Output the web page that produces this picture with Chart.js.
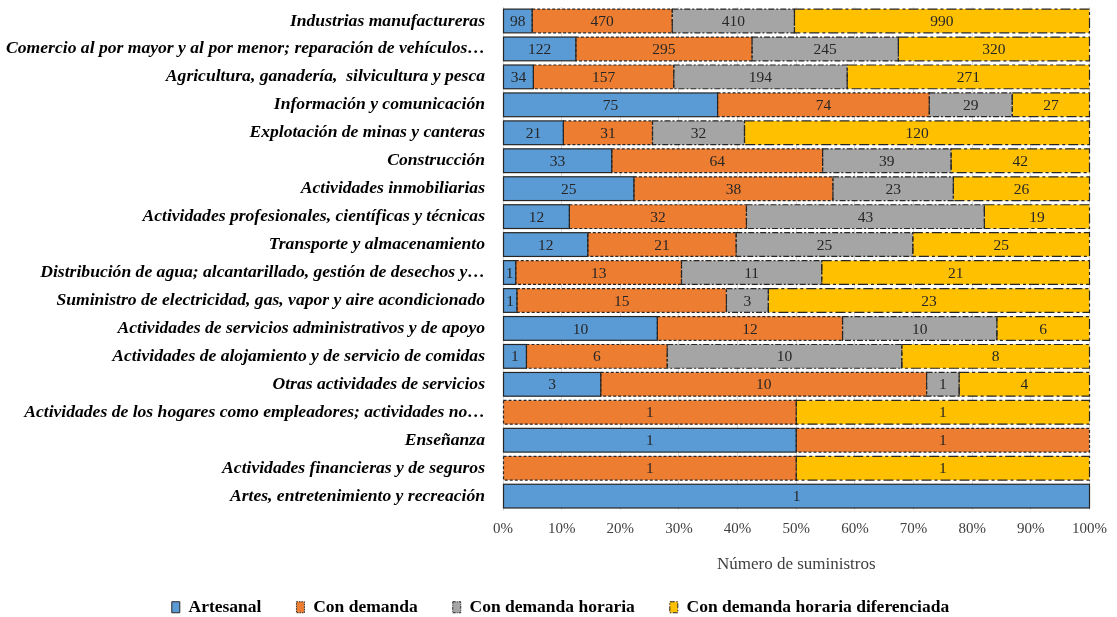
<!DOCTYPE html>
<html>
<head>
<meta charset="utf-8">
<script src="https://cdn.jsdelivr.net/npm/chart.js@4/dist/chart.umd.min.js"></script>
<style>
  html, body { margin: 0; padding: 0; background: #fff; }
  #wrap { width: 1117px; height: 617px; }
</style>
</head>
<body>
<div id="wrap"><canvas id="myChart" width="1117" height="617"></canvas></div>
<script>
// Categories (top to bottom)
const categories = [
    'Industrias manufactureras',
    'Comercio al por mayor y al por menor; reparación de vehículos…',
    'Agricultura, ganadería,  silvicultura y pesca',
    'Información y comunicación',
    'Explotación de minas y canteras',
    'Construcción',
    'Actividades inmobiliarias',
    'Actividades profesionales, científicas y técnicas',
    'Transporte y almacenamiento',
    'Distribución de agua; alcantarillado, gestión de desechos y…',
    'Suministro de electricidad, gas, vapor y aire acondicionado',
    'Actividades de servicios administrativos y de apoyo',
    'Actividades de alojamiento y de servicio de comidas',
    'Otras actividades de servicios',
    'Actividades de los hogares como empleadores; actividades no…',
    'Enseñanza',
    'Actividades financieras y de seguros',
    'Artes, entretenimiento y recreación'
];

// Number of supplies per series (null = none)
const artesanal = [98, 122, 34, 75, 21, 33, 25, 12, 12, 1, 1, 10, 1, 3, null, 1, null, 1];
const conDemanda = [470, 295, 157, 74, 31, 64, 38, 32, 21, 13, 15, 12, 6, 10, 1, 1, 1, null];
const conDemandaHoraria = [410, 245, 194, 29, 32, 39, 23, 43, 25, 11, 3, 10, 10, 1, null, null, null, null];
const conDemandaHorariaDif = [990, 320, 271, 27, 120, 42, 26, 19, 25, 21, 23, 6, 8, 4, 1, null, 1, null];

const xTicks = [0, 10, 20, 30, 40, 50, 60, 70, 80, 90, 100];

const seriesCounts = [artesanal, conDemanda, conDemandaHoraria, conDemandaHorariaDif];
const totals = categories.map((c, i) => seriesCounts.reduce((s, arr) => s + (arr[i] || 0), 0));
const toPct = arr => arr.map((v, i) => v == null ? null : v / totals[i] * 100);

const serif = "'Liberation Serif', 'Times New Roman', serif";
const borderDark = '#262626';

// Chart.js bars have no dashed outline, so draw outlines + value labels here
const outlinePlugin = {
    id: 'outlines',
    afterLayout(chart) {
        // legend padding is used for item spacing, pull the row up a bit
        chart.legend.top -= 11;
        chart.legend.bottom -= 11;
        chart.legend.left += 12;
        chart.legend.right += 12;
    },
    afterDatasetsDraw(chart) {
        const ctx = chart.ctx;
        ctx.save();
        chart.data.datasets.forEach((ds, i) => {
            const meta = chart.getDatasetMeta(i);
            meta.data.forEach((el, j) => {
                if (ds.data[j] == null) return;
                const p = el.getProps(['x', 'y', 'base', 'height'], true);
                const left = Math.min(p.base, p.x);
                const w = Math.abs(p.x - p.base);
                ctx.lineWidth = 1.2;
                ctx.strokeStyle = borderDark;
                ctx.setLineDash(ds.dash);
                ctx.strokeRect(left, p.y - p.height / 2, w, p.height);
            });
        });
        ctx.setLineDash([]);
        ctx.fillStyle = '#262626';
        ctx.font = '15.5px ' + serif;
        ctx.textAlign = 'center';
        ctx.textBaseline = 'middle';
        chart.data.datasets.forEach((ds, i) => {
            const meta = chart.getDatasetMeta(i);
            meta.data.forEach((el, j) => {
                if (ds.data[j] == null) return;
                const p = el.getProps(['x', 'y', 'base'], true);
                ctx.fillText(String(ds.counts[j]), (p.base + p.x) / 2, p.y + 1);
            });
        });
        ctx.restore();
    }
};

const ctx = document.getElementById('myChart').getContext('2d');
const myChart = new Chart(ctx, {
    type: 'bar',
    data: {
        labels: categories,
        datasets: [
            { label: 'Artesanal', data: toPct(artesanal), counts: artesanal, backgroundColor: '#5B9BD5', dash: [] },
            { label: 'Con demanda', data: toPct(conDemanda), counts: conDemanda, backgroundColor: '#ED7D31', dash: [3, 2] },
            { label: 'Con demanda horaria', data: toPct(conDemandaHoraria), counts: conDemandaHoraria, backgroundColor: '#A5A5A5', dash: [6, 2, 2, 2] },
            { label: 'Con demanda horaria diferenciada', data: toPct(conDemandaHorariaDif), counts: conDemandaHorariaDif, backgroundColor: '#FFC000', dash: [10, 3, 3, 3] }
        ].map(d => Object.assign(d, { borderWidth: 0, barPercentage: 0.85, categoryPercentage: 1 }))
    },
    plugins: [outlinePlugin],
    options: {
        indexAxis: 'y',
        responsive: false,
        animation: false,
        layout: { padding: { left: 0, right: 20, top: 7, bottom: -20 } },
        scales: {
            x: {
                stacked: true,
                min: 0,
                max: 100,
                afterBuildTicks: scale => { scale.ticks = xTicks.map(v => ({ value: v })); },
                grid: { color: '#d9d9d9', drawTicks: false },
                border: { display: false },
                ticks: {
                    padding: 10,
                    color: '#404040',
                    font: { family: serif, size: 15 },
                    callback: v => v + '%'
                },
                title: {
                    display: true,
                    text: 'Número de suministros',
                    color: '#404040',
                    font: { family: serif, size: 17 },
                    padding: { top: 6, bottom: 0 }
                }
            },
            y: {
                stacked: true,
                grid: { display: false },
                border: { color: '#d9d9d9' },
                afterFit: scale => {
                    scale.width = 503;
                    scale.paddingTop = 0;
                    scale.paddingBottom = 0;
                },
                ticks: {
                    padding: 10,
                    color: '#000',
                    font: { family: serif, size: 17.6, style: 'italic', weight: 'bold' }
                }
            }
        },
        plugins: {
            tooltip: { enabled: false },
            legend: {
                position: 'bottom',
                labels: {
                    boxWidth: 8,
                    boxHeight: 11,
                    padding: 35,
                    color: '#000',
                    font: { family: serif, size: 17.5, weight: 'bold' },
                    generateLabels: chart => {
                        const items = Chart.defaults.plugins.legend.labels.generateLabels(chart);
                        items.forEach((it, i) => {
                            it.strokeStyle = borderDark;
                            it.lineWidth = 1;
                            it.lineDash = chart.data.datasets[i].dash.map(v => v / 2);
                        });
                        return items;
                    }
                }
            }
        }
    }
});
</script>
</body>
</html>
